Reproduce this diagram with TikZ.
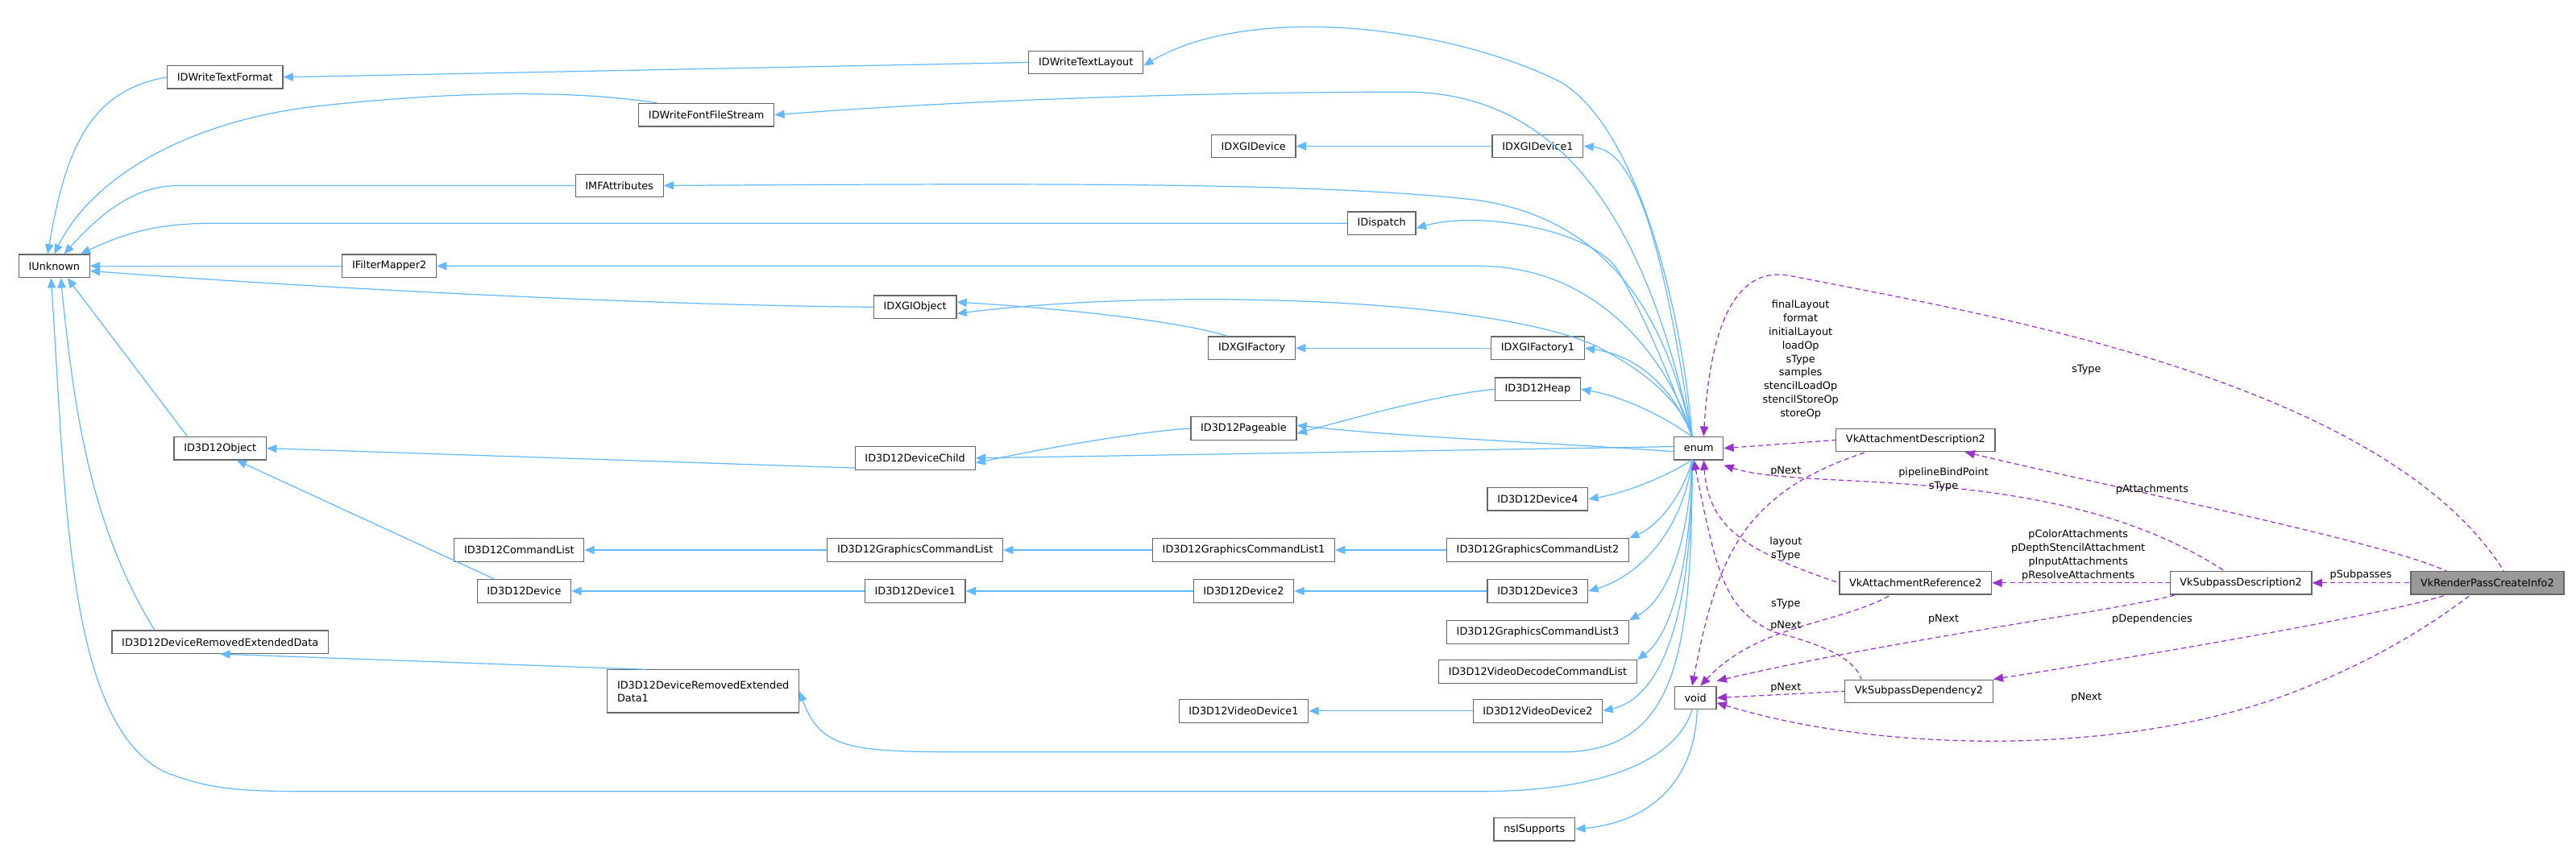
\documentclass[tikz,border=0pt]{standalone}
\usepackage{fontspec}
\setmainfont{DejaVu Sans}
\usetikzlibrary{arrows.meta}
\definecolor{cblue}{HTML}{63B8FF}
\definecolor{cpurp}{HTML}{9A32CD}
\begin{document}
\begin{tikzpicture}[x=1pt,y=-1pt,
  box/.style={draw=black!60, fill=white, line width=0.6pt, font=\fontsize{6.3}{7.8}\selectfont, inner xsep=6pt, inner ysep=0pt, minimum height=14pt},
  inh/.style={draw=cblue, line width=0.6pt, {Triangle[length=6pt,width=5pt]}-},
  use/.style={draw=cpurp, line width=0.6pt, dash pattern=on 3pt off 2pt, {Triangle[length=6pt,width=5pt]}-},
  lab/.style={font=\fontsize{6.3}{8.3}\selectfont, align=center, inner sep=0pt}]
\useasboundingbox (0,0) rectangle (1568,516);
% nodes
\node[box] (IUnknown) at (33,162) {IUnknown};
\node[box] (TF) at (137,47) {IDWriteTextFormat};
\node[box] (TL) at (661,38) {IDWriteTextLayout};
\node[box] (FFS) at (430,70) {IDWriteFontFileStream};
\node[box] (XD) at (763,89) {IDXGIDevice};
\node[box] (XD1) at (936,89) {IDXGIDevice1};
\node[box] (MF) at (377,113) {IMFAttributes};
\node[box] (Disp) at (841,136) {IDispatch};
\node[box] (FM) at (237,162) {IFilterMapper2};
\node[box] (XO) at (557,187) {IDXGIObject};
\node[box] (XF) at (762,212) {IDXGIFactory};
\node[box] (XF1) at (936,212) {IDXGIFactory1};
\node[box] (Heap) at (936,237) {ID3D12Heap};
\node[box] (Pg) at (757,261) {ID3D12Pageable};
\node[box] (enum) at (1034,273) {enum};
\node[box] (Obj) at (134,273) {ID3D12Object};
\node[box] (DC) at (557,279) {ID3D12DeviceChild};
\node[box] (VAD) at (1166,268) {VkAttachmentDescription2};
\node[box] (D4) at (936,304) {ID3D12Device4};
\node[box] (CL) at (316,335) {ID3D12CommandList};
\node[box] (GCL) at (557,335) {ID3D12GraphicsCommandList};
\node[box] (GCL1) at (757,335) {ID3D12GraphicsCommandList1};
\node[box] (GCL2) at (936,335) {ID3D12GraphicsCommandList2};
\node[box] (VAR) at (1166,355) {VkAttachmentReference2};
\node[box] (VSD) at (1364,355) {VkSubpassDescription2};
\node[box, fill=black!40] (RP) at (1514,355) {VkRenderPassCreateInfo2};
\node[box] (Dev) at (319,360) {ID3D12Device};
\node[box] (Dev1) at (557,360) {ID3D12Device1};
\node[box] (Dev2) at (757,360) {ID3D12Device2};
\node[box] (Dev3) at (936,360) {ID3D12Device3};
\node[box] (GCL3) at (936,385) {ID3D12GraphicsCommandList3};
\node[box] (VDC) at (936,409) {ID3D12VideoDecodeCommandList};
\node[box] (DRED) at (134,391) {ID3D12DeviceRemovedExtendedData};
\node[box, align=left, minimum height=26pt] (DRED1) at (428,421) {ID3D12DeviceRemovedExtended\\Data1};
\node[box] (void) at (1032,425) {void};
\node[box] (VSDep) at (1168,421) {VkSubpassDependency2};
\node[box] (VDev1) at (757,433) {ID3D12VideoDevice1};
\node[box] (VDev2) at (936,433) {ID3D12VideoDevice2};
\node[box] (nsI) at (934,505) {nsISupports};
% anchors on enum / void
\coordinate (eT) at (1030,266);
\coordinate (eB) at (1030,280);
\coordinate (vB) at (1030,432);
% blue to IUnknown
\draw[inh] ([xshift=-4pt]IUnknown.north) .. controls (40,90) and (55,55) .. (TF.west);
\draw[inh] (IUnknown.north) .. controls (55,110) and (110,75) .. (190,65) .. controls (280,55) and (350,55) .. ([xshift=-30pt]FFS.north);
\draw[inh] ([xshift=6pt]IUnknown.north) .. controls (70,120) and (90,113) .. (110,113) -- (MF.west);
\draw[inh] ([xshift=16pt]IUnknown.north) .. controls (80,140) and (100,136) .. (130,136) -- (Disp.west);
\draw[inh] (IUnknown.east) -- (FM.west);
\draw[inh] ([yshift=-3pt]IUnknown.east) .. controls (200,176) and (400,186) .. (XO.west);
\draw[inh] ([xshift=8pt]IUnknown.south) -- ([xshift=-20pt]Obj.north);
\draw[inh] ([xshift=4pt]IUnknown.south) .. controls (45,250) and (55,320) .. ([xshift=-40pt]DRED.north);
\draw[inh] ([xshift=-2pt]IUnknown.south) .. controls (40,300) and (40,440) .. (100,470) .. controls (130,482) and (150,482) .. (200,482) -- (900,482) .. controls (1000,482) and (1025,450) .. (vB);
% other blue
\draw[inh] (TF.east) -- (TL.west);
\draw[inh] (XD.east) -- (XD1.west);
\draw[inh] ([yshift=3pt]XO.east) .. controls (650,188) and (720,196) .. ([xshift=-15pt]XF.north);
\draw[inh] (XF.east) -- (XF1.west);
\draw[inh] ([yshift=-3pt]Pg.east) .. controls (840,250) and (880,240) .. (Heap.west);
\draw[inh] ([yshift=-3pt]DC.east) .. controls (640,272) and (700,262) .. (Pg.west);
\draw[inh] (Obj.east) -- ([yshift=-6pt]DC.west);
\draw[inh] ([xshift=10pt]Obj.south) -- ([xshift=-18pt]Dev.north);
\draw[inh] (CL.east) -- (GCL.west);
\draw[inh] (GCL.east) -- (GCL1.west);
\draw[inh] (GCL1.east) -- (GCL2.west);
\draw[inh] (Dev.east) -- (Dev1.west);
\draw[inh] (Dev1.east) -- (Dev2.west);
\draw[inh] (Dev2.east) -- (Dev3.west);
\draw[inh] (VDev1.east) -- (VDev2.west);
\draw[inh] (DRED.south) -- ([xshift=-35pt]DRED1.north);
% blue from enum
\draw[inh] ([yshift=-2pt]TL.east) .. controls (760,2) and (880,15) .. (950,50) .. controls (1000,80) and (1025,200) .. (eT);
\draw[inh] (FFS.east) .. controls (600,60) and (750,56) .. (858,56) .. controls (960,58) and (1005,150) .. (eT);
\draw[inh] (XD1.east) .. controls (1000,92) and (1015,170) .. (eT);
\draw[inh] (MF.east) .. controls (600,112) and (800,110) .. (900,122) .. controls (985,135) and (1015,200) .. (eT);
\draw[inh] ([yshift=-3pt]Disp.east) .. controls (900,128) and (970,140) .. (985,165) .. controls (1005,200) and (1020,240) .. (eT);
\draw[inh] (FM.east) -- (900,162) .. controls (980,162) and (1020,230) .. (eT);
\draw[inh] ([yshift=-4pt]XO.east) .. controls (700,176) and (900,180) .. (970,210) .. controls (1010,230) and (1025,250) .. (eT);
\draw[inh] (XF1.east) .. controls (1000,217) and (1020,240) .. (eT);
\draw[inh] (Heap.east) .. controls (990,242) and (1015,255) .. (eT);
\draw[inh] ([yshift=2pt]Pg.east) .. controls (850,266) and (950,270) .. ([yshift=-2pt]enum.west);
\draw[inh] (DC.east) -- ([yshift=1pt]enum.west);
\draw[inh] (D4.east) .. controls (990,300) and (1015,290) .. (eB);
\draw[inh] (GCL2.north east) .. controls (1010,320) and (1025,300) .. (eB);
\draw[inh] (Dev3.east) .. controls (1000,350) and (1025,320) .. (eB);
\draw[inh] (GCL3.north east) .. controls (1015,365) and (1028,330) .. (eB);
\draw[inh] (VDC.north east) .. controls (1020,385) and (1030,330) .. (eB);
\draw[inh] (VDev2.east) .. controls (1010,425) and (1030,380) .. (eB);
\draw[inh] (DRED1.east) .. controls (500,458) and (520,458) .. (600,458) -- (950,458) .. controls (1020,458) and (1030,400) .. (eB);
\draw[inh] (nsI.east) .. controls (1010,500) and (1032,470) .. ([xshift=1pt]void.south);
% purple
\draw[use] ([xshift=3pt]enum.north) .. controls (1040,215) and (1050,160) .. (1090,168) .. controls (1200,190) and (1450,230) .. ([xshift=10pt]RP.north);
\node[lab] at (1270,225) {sType};
\draw[use] (enum.east) -- (VAD.west);
\node[lab] at (1096,219) {finalLayout\\format\\initialLayout\\loadOp\\sType\\samples\\stencilLoadOp\\stencilStoreOp\\storeOp};
\draw[use] ([xshift=-2pt]void.north) .. controls (1045,340) and (1060,300) .. ([xshift=-30pt]VAD.south);
\node[lab] at (1087,287) {pNext};
\draw[use] ([yshift=-3pt]enum.south east) .. controls (1100,300) and (1250,280) .. ([xshift=-10pt]VSD.north);
\node[lab] at (1183,292) {pipelineBindPoint\\sType};
\draw[use] ([xshift=30pt]VAD.south) .. controls (1300,300) and (1450,330) .. ([xshift=-25pt]RP.north);
\node[lab] at (1310,298) {pAttachments};
\draw[use] ([xshift=3pt]enum.south) .. controls (1040,320) and (1060,335) .. (VAR.west);
\node[lab] at (1087,334) {layout\\sType};
\draw[use] ([xshift=3pt]void.north) .. controls (1070,380) and (1120,380) .. ([xshift=-15pt]VAR.south);
\node[lab] at (1087,381) {pNext};
\draw[use] ([xshift=-3pt]enum.south) .. controls (1045,350) and (1050,372) .. (1080,385) .. controls (1120,395) and (1130,405) .. ([xshift=-35pt]VSDep.north);
\node[lab] at (1087,368) {sType};
\draw[use] (VAR.east) -- (VSD.west);
\node[lab] at (1265,338) {pColorAttachments\\pDepthStencilAttachment\\pInputAttachments\\pResolveAttachments};
\draw[use] (VSD.east) -- (RP.west);
\node[lab] at (1437,350) {pSubpasses};
\draw[use] ([yshift=3pt]void.north east) .. controls (1150,390) and (1300,370) .. ([xshift=-40pt]VSD.south);
\node[lab] at (1183,377) {pNext};
\draw[use] (VSDep.north east) .. controls (1300,400) and (1450,375) .. ([xshift=-25pt]RP.south);
\node[lab] at (1310,377) {pDependencies};
\draw[use] (void.east) -- (VSDep.west);
\node[lab] at (1087,419) {pNext};
\draw[use] ([yshift=-3pt]void.east) .. controls (1150,460) and (1300,460) .. (1400,420) .. controls (1450,400) and (1480,380) .. ([xshift=-10pt]RP.south);
\node[lab] at (1270,425) {pNext};
\end{tikzpicture}
\end{document}
